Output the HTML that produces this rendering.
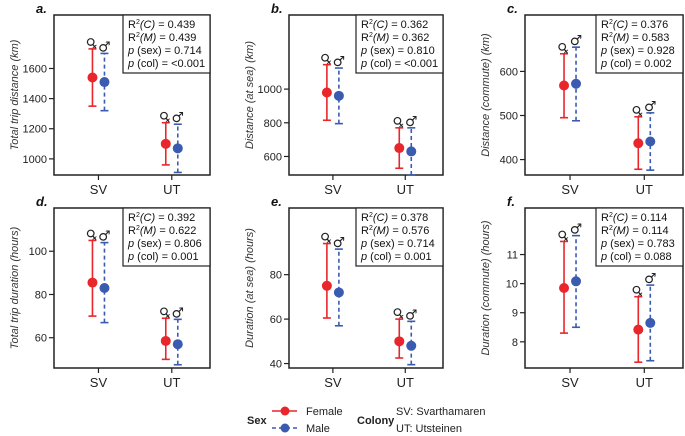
<!DOCTYPE html>
<html><head><meta charset="utf-8">
<style>
html,body{margin:0;padding:0;background:#fff;}
svg{display:block;font-family:"Liberation Sans",Arial,sans-serif;}
</style></head>
<body>
<svg id="chart" width="685" height="436" viewBox="0 0 685 436"></svg>
<script>
// ---- data ----
const categories = ["SV","UT"];
const panelLetters = ["a.","b.","c.","d.","e.","f."];
const yTitles = ["Total trip distance (km)","Distance (at sea) (km)","Distance (commute) (km)","Total trip duration (hours)","Duration (at sea) (hours)","Duration (commute) (hours)"];
const yTicks = [[1000,1200,1400,1600],[600,800,1000],[400,500,600],[60,80,100],[40,60,80],[8,9,10,11]];
const yDomains = [[893,1955],[490,1440],[365,728],[46,120],[38,110],[7.1,12.6]];
const femaleMean = [[1540,1100],[980,650],[568,437],[85.5,58.5],[75,50],[9.85,8.42]];
const femaleLow  = [[1350,960],[815,530],[495,378],[70,50],[60.5,42.5],[8.3,7.3]];
const femaleHigh = [[1730,1240],[1145,770],[640,497],[105,69],[94,60],[11.45,9.55]];
const maleMean = [[1510,1070],[960,630],[572,441],[83,57],[72,48],[10.08,8.65]];
const maleLow  = [[1320,910],[795,490],[488,376],[67,47.5],[57,39.5],[8.5,7.35]];
const maleHigh = [[1700,1230],[1125,770],[655,506],[104,68.5],[91.5,59],[11.65,9.95]];
const statR2C = ["0.439","0.362","0.376","0.392","0.378","0.114"];
const statR2M = ["0.439","0.362","0.583","0.622","0.576","0.114"];
const statPsex = ["0.714","0.810","0.928","0.806","0.714","0.783"];
const statPcol = ["<0.001","<0.001","0.002","0.001","0.001","0.088"];

// ---- layout ----
const cols = [[54,210],[289,443],[525,683]];
const rows = [[15,175],[208,368]];
const RED="#e8262b", BLUE="#3a5bb0";
const NS="http://www.w3.org/2000/svg";
const svg=document.getElementById('chart');
function mk(tag,attrs,parent){const e=document.createElementNS(NS,tag);for(const k in attrs)e.setAttribute(k,attrs[k]);(parent||svg).appendChild(e);return e;}

for(let p=0;p<6;p++){
  const [x0,x1]=cols[p%3], [y0,y1]=rows[Math.floor(p/3)];
  const [d0,d1]=yDomains[p];
  const y=v=>y1-(v-d0)/(d1-d0)*(y1-y0);
  const xc=i=>x0+(x1-x0)*(i===0?0.285:0.755);
  const g=mk('g',{});
  
  
  const box=mk('rect',{x:x0,y:y0,width:x1-x0,height:y1-y0,fill:'none',stroke:'#222','stroke-width':1.5},g);
  
  
  const lt=mk('text',{x:x0-18,y:y0-2,'font-size':13,'font-weight':'bold','font-style':'italic',fill:'#111'},g);
  lt.textContent=panelLetters[p];
  
  
  yTicks[p].forEach(t=>{
    const yy=y(t);
    mk('line',{x1:x0-5,x2:x0,y1:yy,y2:yy,stroke:'#222','stroke-width':1.2},g);
    const tx=mk('text',{x:x0-7,y:yy+4,'font-size':11,'text-anchor':'end',fill:'#222'},g);
    tx.textContent=t;
    
    
  });
  const yt=mk('text',{x:0,y:0,'font-size':11,'font-style':'italic','text-anchor':'middle',fill:'#333',transform:`translate(${x0-36},${(y0+y1)/2}) rotate(-90)`},g);
  yt.textContent=yTitles[p];
  
  
  categories.forEach((c,i)=>{
    const xx=xc(i);
    mk('line',{x1:xx,x2:xx,y1:y1,y2:y1+5,stroke:'#222','stroke-width':1.2},g);
    const tx=mk('text',{x:xx,y:y1+19,'font-size':13,'text-anchor':'middle',fill:'#222'},g);
    tx.textContent=c;
    
    
  });
  const sx=x1-87, sh=58;
  const sb=mk('rect',{x:sx,y:y0,width:x1-sx,height:sh,fill:'#fff',stroke:'#222','stroke-width':1.2},g);
  
  
  const lines=[`R<tspan font-size="7" dy="-4">2</tspan><tspan dy="4" font-style="italic">(C)</tspan> = ${statR2C[p]}`,
    `R<tspan font-size="7" dy="-4">2</tspan><tspan dy="4" font-style="italic">(M)</tspan> = ${statR2M[p]}`,
    `<tspan font-style="italic">p</tspan> (sex) = ${statPsex[p]}`,
    `<tspan font-style="italic">p</tspan> (col) = ${statPcol[p].replace('<','&lt;')}`];
  lines.forEach((l,k)=>{
    const t=mk('text',{x:sx+5,y:y0+13+k*13,'font-size':11,fill:'#111'},g);
    t.innerHTML=l;
    
    
  });
  const series=[[femaleMean,femaleLow,femaleHigh,RED,-6,null,'♀'],[maleMean,maleLow,maleHigh,BLUE,6,'4,3','♂']];
  series.forEach(([m,lo,hi,col,off,dash,sym],si)=>{
    categories.forEach((c,i)=>{
      const xx=xc(i)+off;
      const ln=mk('line',{x1:xx,x2:xx,y1:y(lo[p][i]),y2:y(hi[p][i]),stroke:col,'stroke-width':1.6},g);
      if(dash) ln.setAttribute('stroke-dasharray',dash);
      
      
      [lo[p][i],hi[p][i]].forEach(v=>mk('line',{x1:xx-4,x2:xx+4,y1:y(v),y2:y(v),stroke:col,'stroke-width':1.6},g));
      const pt=mk('circle',{cx:xx,cy:y(m[p][i]),r:5,fill:col},g);
      
      
      const sy=y(hi[p][i]);
      const st=mk('text',{x:xx+(si?0:-2),y:sy-2,'font-size':14,'font-family':'"DejaVu Sans",sans-serif','text-anchor':'middle',fill:'#222',transform:si?'':`rotate(-40 ${xx} ${sy-8})`},g);
      st.textContent=sym;
      
      
    });
  });
}
const lg=mk('g',{});


function txt(s,x,y,attrs,name){const t=mk('text',Object.assign({x:x,y:y,'font-size':11,fill:'#222'},attrs||{}),lg);t.textContent=s;return t;}
txt('Sex',247,424,{'font-weight':'bold'},'legend-title-sex');
mk('line',{x1:272,x2:297,y1:411,y2:411,stroke:RED,'stroke-width':1.6},lg);
mk('circle',{cx:285,cy:411,r:4.5,fill:RED},lg);
txt('Female',306,415,{},'legend-entry-female');
mk('line',{x1:272,x2:297,y1:428,y2:428,stroke:BLUE,'stroke-width':1.6,'stroke-dasharray':'4,3'},lg);
mk('circle',{cx:285,cy:428,r:4.5,fill:BLUE},lg);
txt('Male',306,432,{},'legend-entry-male');
txt('Colony',357,424,{'font-weight':'bold'},'legend-title-colony');
txt('SV: Svarthamaren',396,415,{},'legend-entry-sv');
txt('UT: Utsteinen',396,432,{},'legend-entry-ut');
</script>
</body></html>
